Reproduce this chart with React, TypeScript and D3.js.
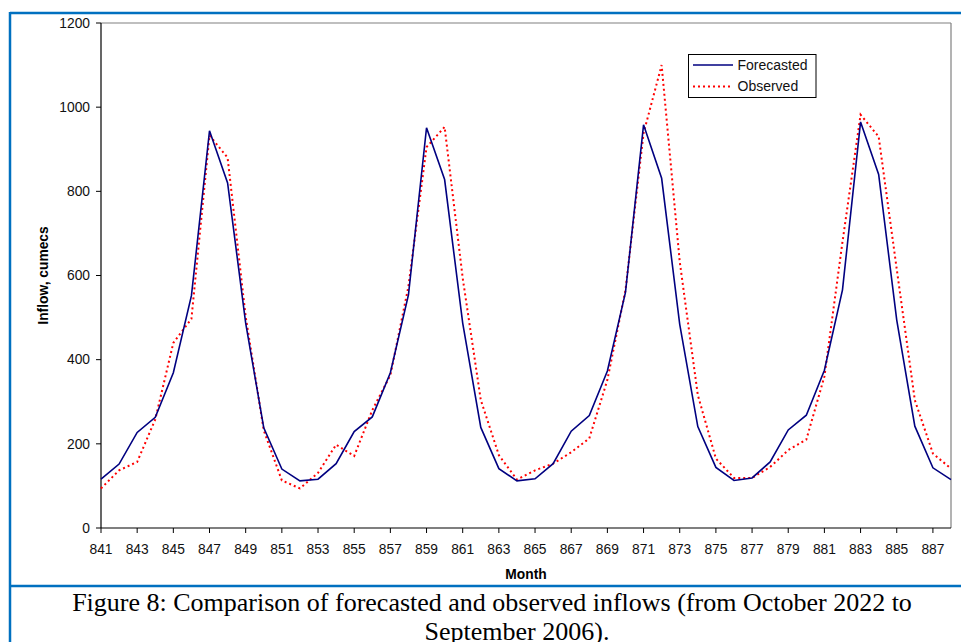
import React from "react";
import * as d3 from "d3";

const months = [841,842,843,844,845,846,847,848,849,850,851,852,853,854,855,856,857,858,859,860,861,862,863,864,865,866,867,868,869,870,871,872,873,874,875,876,877,878,879,880,881,882,883,884,885,886,887,888];
const forecasted = [116,152,227,263,369,552,944,820,487,238,140,112, 116,153,229,264,369,554,951,828,487,239,141,112, 117,153,230,267,373,560,958,831,484,241,144,113, 119,157,233,268,375,566,965,840,494,242,143,115];
const observed = [94,137,157,258,440,497,933,880,502,232,113,94, 131,198,171,280,363,574,905,953,594,304,173,115, 137,153,180,213,352,565,938,1100,633,316,165,119, 119,145,185,210,360,680,982,930,615,304,177,141];
const yTicks = [0,200,400,600,800,1000,1200];
const xTickLabels = [841,843,845,847,849,851,853,855,857,859,861,863,865,867,869,871,873,875,877,879,881,883,885,887];
const seriesNames = ["Forecasted", "Observed"];
const captionLines = ["Figure 8: Comparison of forecasted and observed inflows (from October 2022 to", "September 2006)."];

export default function App() {
  const W = 961, H = 642;
  const left = 101, right = 951, top = 23, bottom = 528;
  const x = d3.scaleLinear().domain([841, 888]).range([left, right]);
  const y = d3.scaleLinear().domain([0, 1200]).range([bottom, top]);
  const line = d3.line<number>().x((_, i) => x(months[i])).y((d) => y(d));
  const sans = "'Liberation Sans', Arial, sans-serif";
  const serif = "'Liberation Serif', 'Times New Roman', serif";
  const blue = "#0070C0";
  return (
    <svg width={W} height={H} style={{ position: "absolute", left: 0, top: 0 }}>
      <rect x={0} y={0} width={W} height={H} fill="#fff" />
      {/* frame */}
      <line x1={10} y1={13} x2={W} y2={13} stroke={blue} strokeWidth={2.5} />
      <line x1={10} y1={12} x2={10} y2={H} stroke={blue} strokeWidth={2.5} />
      <line x1={10} y1={586} x2={W} y2={586} stroke={blue} strokeWidth={2.5} />
      {/* plot border */}
      <line x1={left} y1={top} x2={right} y2={top} stroke="#808080" strokeWidth={1.2} />
      <line x1={right} y1={top} x2={right} y2={bottom} stroke="#808080" strokeWidth={1.2} />
      {/* axes */}
      <line x1={left} y1={top} x2={left} y2={bottom} stroke="#000" strokeWidth={1.2} />
      <line x1={left} y1={bottom} x2={right} y2={bottom} stroke="#000" strokeWidth={1.2} />
      {yTicks.map((t) => (
        <g key={"y" + t}>
          <line x1={left - 5} x2={left} y1={y(t)} y2={y(t)} stroke="#000" strokeWidth={1} />
          <text x={90} y={y(t)} dy="0.35em" textAnchor="end" fontFamily={sans} fontSize={13.8} fill="#111">{t}</text>
        </g>
      ))}
      {xTickLabels.map((t) => (
        <g key={"x" + t}>
          <line x1={x(t)} x2={x(t)} y1={bottom} y2={bottom + 5} stroke="#000" strokeWidth={1} />
          <text x={x(t)} y={554} textAnchor="middle" fontFamily={sans} fontSize={13.8} fill="#111">{t}</text>
        </g>
      ))}
      <text x={(left + right) / 2} y={579} textAnchor="middle" fontFamily={sans} fontSize={13.8} fontWeight="bold">Month</text>
      <text transform={`translate(48,${(top + bottom) / 2}) rotate(-90)`} textAnchor="middle" fontFamily={sans} fontSize={13.8} fontWeight="bold">Inflow, cumecs</text>
      {/* series */}
      <path d={line(observed) || ""} fill="none" stroke="#FF0000" strokeWidth={2} strokeDasharray="2,3" />
      <path d={line(forecasted) || ""} fill="none" stroke="#000080" strokeWidth={1.6} />
      {/* legend */}
      <rect x={688.5} y={54.5} width={127.5} height={43} fill="#fff" stroke="#000" strokeWidth={1} />
      <line x1={693} x2={733} y1={65} y2={65} stroke="#000080" strokeWidth={1.6} />
      <line x1={693} x2={733} y1={86.5} y2={86.5} stroke="#FF0000" strokeWidth={2} strokeDasharray="2,3" />
      <text x={737.5} y={65} dy="0.35em" fontFamily={sans} fontSize={14} fill="#111">{seriesNames[0]}</text>
      <text x={737.5} y={86.5} dy="0.35em" fontFamily={sans} fontSize={14} fill="#111">{seriesNames[1]}</text>
      {/* caption */}
      <text x={492} y={611} textAnchor="middle" fontFamily={serif} fontSize={26} fill="#000">{captionLines[0]}</text>
      <text x={517} y={639.5} textAnchor="middle" fontFamily={serif} fontSize={26} fill="#000">{captionLines[1]}</text>
    </svg>
  );
}
